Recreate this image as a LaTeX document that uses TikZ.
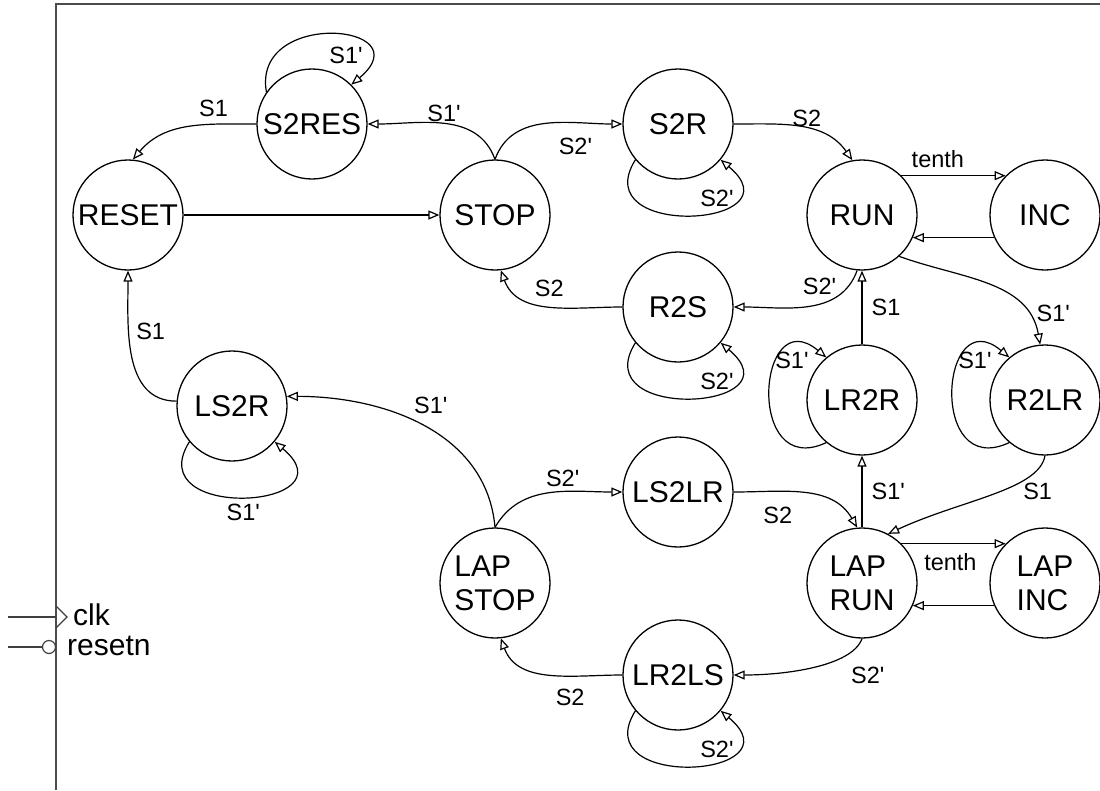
\documentclass[tikz,border=0pt]{standalone}
\usepackage{fontspec}
\setmainfont{Liberation Sans}
\usetikzlibrary{positioning, arrows.meta}
\newcommand{\statefont}{\fontsize{30}{34}\selectfont}
\newcommand{\lblfont}{\fontsize{23.5}{26}\selectfont}
\newcommand{\inv}{\textquotesingle}

\begin{document}
\begin{tikzpicture}[
    x=1pt, y=1pt, on grid,
    state/.style={
      circle, draw, line width=1.3pt, minimum size=110pt,
      inner sep=0pt, font=\statefont, align=left
    },
    lbl/.style={font=\lblfont, inner sep=1pt},
    arrow/.style={-{Triangle[open, length=11pt, width=9pt]}, line width=1.2pt},
    pin/.style={line width=1.2pt, black!75},
    loopbelow/.style={out=238, in=-40, out distance=95pt, in distance=105pt},
    loopleft/.style={out=205, in=140, distance=90pt}
]
  \useasboundingbox (0,0) rectangle (1100,-790);

  % block outline
  \draw[line width=1.5pt, black!70] (56,-790) -- (56,-4) -- (1100,-4);

  % states
  \node[state] (reset) at (128,-215) {RESET};
  \node[state, right=367pt of reset] (stop) {STOP};
  \node[state, above right=91pt and 184pt of reset] (s2res) {S2RES};
  \node[state, above right=91pt and 183pt of stop] (s2r) {S2R};
  \node[state, right=367pt of stop] (run) {RUN};
  \node[state, right=183pt of run] (inc) {INC};
  \node[state, below right=92pt and 183pt of stop] (r2s) {R2S};
  \node[state, below=185pt of run] (lr2r) {LR2R};
  \node[state, right=183pt of lr2r] (r2lr) {R2LR};
  \node[state, below=183pt of lr2r] (laprun) {LAP\\RUN};
  \node[state, right=183pt of laprun] (lapinc) {LAP\\INC};
  \node[state, left=367pt of laprun] (lapstop) {LAP\\STOP};
  \node[state, above right=91pt and 183pt of lapstop] (ls2lr) {LS2LR};
  \node[state, below right=92pt and 183pt of lapstop] (lr2ls) {LR2LS};
  \node[state, above left=177pt and 263pt of lapstop] (ls2r) {LS2R};

  % upper half
  \draw[arrow] (s2res.west) to[out=180, in=50] node[lbl, above=6pt, pos=0.3] {S1} (reset.85);
  \draw[arrow] (s2res.145) to[out=100, in=40, out distance=85pt, in distance=95pt]
    node[lbl, below left, pos=0.72] {S1\inv} (s2res.45);
  \draw[arrow] (stop.north) to[out=110, in=0] node[lbl, above, pos=0.5] {S1\inv} (s2res.east);
  \draw[arrow] (stop.north) to[out=70, in=180] node[lbl, below=14pt, pos=0.7] {S2\inv} (s2r.west);
  \draw[arrow] (reset) -- (stop);
  \draw[arrow] (s2r.220) to[loopbelow] node[lbl, left, pos=0.76] {S2\inv} (s2r.-40);
  \draw[arrow] (s2r.east) to[out=0, in=125] node[lbl, above, pos=0.55] {S2} (run.100);
  \draw[arrow] (run.45) -- node[lbl, above=6pt, pos=0.35] {tenth} (inc.135);
  \draw[arrow] (inc.204) -- (run.-24);
  \draw[arrow] (run.265) to[out=250, in=0] node[lbl, above left, pos=0.25] {S2\inv} (r2s.east);
  \draw[arrow] (r2s.west) to[out=180, in=-70] node[lbl, above=8pt, pos=0.5] {S2} (stop.-84);
  \draw[arrow] (r2s.220) to[loopbelow] node[lbl, left, pos=0.76] {S2\inv} (r2s.-40);
  \draw[arrow] (run.-48) to[out=-20, in=100] node[lbl, right=8pt, pos=0.8] {S1\inv} (r2lr.95);

  % right column
  \draw[arrow] (lr2r) -- node[lbl, right=8pt] {S1} (run);
  \draw[arrow] (lr2r.230) to[loopleft] node[lbl, below=3pt, pos=0.8] {S1\inv} (lr2r.130);
  \draw[arrow] (r2lr.230) to[loopleft] node[lbl, below=3pt, pos=0.8] {S1\inv} (r2lr.130);
  \draw[arrow] (r2lr.south) to[out=-100, in=25, out distance=35pt, in distance=80pt]
    node[lbl, below=12pt, pos=0.15] {S1} (laprun.62);
  \draw[arrow] (laprun) -- node[lbl, right=8pt] {S1\inv} (lr2r);

  % lower half
  \draw[arrow] (ls2lr.east) to[out=0, in=120] node[lbl, below=14pt, pos=0.3] {S2} (laprun.95);
  \draw[arrow] (laprun.45) -- node[lbl, below=8pt, pos=0.47] {tenth} (lapinc.135);
  \draw[arrow] (lapinc.204) -- (laprun.-24);
  \draw[arrow] (laprun.south) to[out=-110, in=0, out distance=30pt, in distance=50pt]
    node[lbl, below right=12pt and 0pt, pos=0.2] {S2\inv} (lr2ls.east);
  \draw[arrow] (lr2ls.west) to[out=180, in=-70] node[lbl, below=12pt, pos=0.35] {S2} (lapstop.-84);
  \draw[arrow] (lr2ls.220) to[loopbelow] node[lbl, left, pos=0.76] {S2\inv} (lr2ls.-40);
  \draw[arrow] (lapstop.north) to[out=60, in=180] node[lbl, above=3pt, pos=0.6] {S2\inv} (ls2lr.west);
  \draw[arrow] (lapstop.north) to[out=95, in=0] node[lbl, above=14pt, pos=0.47] {S1\inv} (ls2r.10);
  \draw[arrow] (ls2r.175) to[out=180, in=-90] node[lbl, right=6pt, pos=0.65] {S1} (reset.south);
  \draw[arrow] (ls2r.220) to[loopbelow] node[lbl, below=5pt, pos=0.5] {S1\inv} (ls2r.-40);

  % clock and reset pins
  \coordinate (clkin) at (8,-617);
  \coordinate (clkpin) at (56,-617);
  \draw[pin] (clkin) -- (clkpin);
  \draw[pin] (56,-606) -- (67,-617) -- (56,-628);
  \node[anchor=base west, font=\statefont, inner sep=0pt] (clk) at (73,-625) {clk};
  \node[circle, draw, pin, minimum size=13pt, inner sep=0pt] (rstbub) at (49,-647) {};
  \coordinate (rstin) at (8,-647);
  \draw[pin] (rstin) -- (rstbub);
  \node[anchor=base west, font=\statefont, inner sep=0pt] (resetn) at (67,-655) {resetn};
\end{tikzpicture}
\end{document}
